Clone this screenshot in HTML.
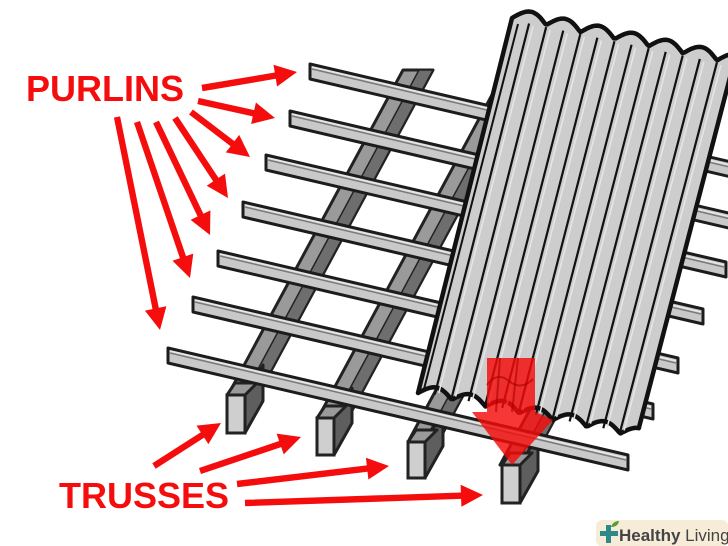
<!DOCTYPE html>
<html><head><meta charset="utf-8">
<style>
html,body{margin:0;padding:0;background:#fff;}
svg{display:block;}
.lbl{font-family:"Liberation Sans",sans-serif;font-weight:bold;font-size:36px;fill:#f50d0d;}
</style></head>
<body>
<svg id="s" width="728" height="546" viewBox="0 0 728 546" xmlns="http://www.w3.org/2000/svg">
<g id="trusses"></g>
<g id="purlins"></g>
<g id="sheet"></g>
<g id="front"></g>
<g id="arrows" fill="#f50d0d" stroke="none"></g>
<text class="lbl" x="26" y="101">PURLINS</text>
<text class="lbl" x="59" y="508">TRUSSES</text>
<rect x="596" y="520" width="132" height="26" rx="6" fill="#f6ecd8"/>
<rect x="600" y="531" width="18" height="5" fill="#2d8a8a"/>
<rect x="606" y="525" width="5" height="18" fill="#2d8a8a"/>
<path d="M611 527 q2 -6 8 -6 q-1 6 -8 6z" fill="#5a9a3a"/>
<text x="619" y="541" font-family="Liberation Sans,sans-serif" font-size="17" fill="#444"><tspan font-weight="bold">Healthy</tspan> Living</text>
</svg>
<script>
(function(){
const NS="http://www.w3.org/2000/svg";
function el(p,tag,a){const e=document.createElementNS(NS,tag);for(const k in a)e.setAttribute(k,a[k]);document.getElementById(p).appendChild(e);return e;}
function pts(a){return a.map(p=>p[0].toFixed(1)+","+p[1].toFixed(1)).join(" ");}
const tr=[[236,395],[326,418],[416,442],[508,465]];
tr.forEach(b=>{
  const x=b[0],y=b[1]; const tx=x+175, ty=y-325;
  el("trusses","polygon",{points:pts([[x-8,y],[x+22,y],[tx+22,ty],[tx-8,ty]]),fill:"#9a9a9a",stroke:"#222","stroke-width":3,"stroke-linejoin":"round"});
  el("trusses","polygon",{points:pts([[x+8,y],[x+22,y],[tx+22,ty],[tx+8,ty]]),fill:"#6e6e6e",stroke:"#222","stroke-width":1.5});
});
const posts=[[227,395,18,38],[317,418,17,37],[408,442,17,36],[502,465,18,38]];
posts.forEach(p=>{
  const x=p[0],y=p[1],w=p[2],h=p[3];
  el("trusses","polygon",{points:pts([[x+w,y],[x+w+18,y-30],[x+w+18,y+h-32],[x+w,y+h]]),fill:"#5e5e5e",stroke:"#222","stroke-width":3,"stroke-linejoin":"round"});
  el("trusses","polygon",{points:pts([[x,y],[x+8,y-12],[x+w+12,y-12],[x+w,y]]),fill:"#9a9a9a",stroke:"#222","stroke-width":3,"stroke-linejoin":"round"});
  el("trusses","rect",{x:x,y:y,width:w,height:h,fill:"#cfcfcf",stroke:"#222","stroke-width":3});
});
const L=[[310,64],[290,111],[266,155],[243,202],[218,251],[193,297],[168,348]];
function purlin(g,l){
  const x=l[0],y=l[1], rx=x+460, ry=y+107;
  el(g,"polygon",{points:pts([[x,y],[rx,ry],[rx,ry+15],[x,y+15]]),fill:"#c9c9c9",stroke:"#1c1c1c","stroke-width":3,"stroke-linejoin":"round"});
  el(g,"line",{x1:x+2,y1:y+5,x2:rx-2,y2:ry+5,stroke:"#7a7a7a","stroke-width":1.5});
  el(g,"line",{x1:x+2,y1:y+3,x2:rx-2,y2:ry+3,stroke:"#e8e8e8","stroke-width":1.5});
}
L.slice(0,6).forEach(l=>purlin("purlins",l));
const TL=[512,18],TR=[734,64],BR=[637,437],BL=[418,393];
function lerp(a,b,t){return [a[0]+(b[0]-a[0])*t,a[1]+(b[1]-a[1])*t];}
const N=13;
function wavy(A,B,amp){
  const out=[];const dx=B[0]-A[0],dy=B[1]-A[1],len=Math.hypot(dx,dy);const nx=dy/len,ny=-dx/len;
  for(let i=0;i<=120;i++){const t=i/120;const p=lerp(A,B,t);const w=amp*Math.abs(Math.sin(Math.PI*t*6.5));out.push([p[0]+nx*w,p[1]+ny*w]);}
  return out;
}
const topE=wavy(TL,TR,10), botE=wavy(BL,BR,9);
const poly=topE.concat(botE.slice().reverse());
el("sheet","polygon",{points:pts(poly),fill:"#cdcdcd",stroke:"#111","stroke-width":4.5,"stroke-linejoin":"round"});
for(let i=1;i<N;i++){
  const t=i/N;
  const a=lerp(TL,TR,t), b=lerp(BL,BR,t);
  el("sheet","line",{x1:a[0],y1:a[1]+2,x2:b[0],y2:b[1]-2,stroke:"#111","stroke-width":2.2});
  const t2=t+0.018;const a2=lerp(TL,TR,t2), b2=lerp(BL,BR,t2);
  el("sheet","line",{x1:a2[0],y1:a2[1]+4,x2:b2[0],y2:b2[1]-4,stroke:"#e6e6e6","stroke-width":1.5});
}
el("sheet","line",{x1:TL[0]+6,y1:TL[1]+6,x2:BL[0]+6,y2:BL[1]-4,stroke:"#111","stroke-width":2});
purlin("front",L[6]);
el("front","polygon",{points:pts([[487,358],[535,358],[535,412],[553,420],[512,465],[472,412],[487,412]]),fill:"rgba(245,10,10,0.82)"});
el("front","path",{d:"M487 385 q10 -14 22 -4 q12 10 24 -2",fill:"none",stroke:"rgba(170,0,0,0.6)","stroke-width":2});
el("front","line",{x1:500,y1:358,x2:496,y2:412,stroke:"rgba(170,0,0,0.6)","stroke-width":2});
el("front","line",{x1:518,y1:358,x2:512,y2:412,stroke:"rgba(170,0,0,0.6)","stroke-width":2});
function arrow(x1,y1,x2,y2){
  const dx=x2-x1,dy=y2-y1,len=Math.hypot(dx,dy),ux=dx/len,uy=dy/len,nx=-uy,ny=ux;
  const hl=22,hw=11,sw=3.2;const bx=x2-ux*hl,by=y2-uy*hl;
  el("arrows","polygon",{points:pts([[x1+nx*sw,y1+ny*sw],[bx+nx*sw,by+ny*sw],[bx+nx*hw,by+ny*hw],[x2,y2],[bx-nx*hw,by-ny*hw],[bx-nx*sw,by-ny*sw],[x1-nx*sw,y1-ny*sw]])});
}
arrow(202,88,297,72);arrow(198,101,275,118);arrow(191,112,250,157);arrow(175,118,228,198);
arrow(156,122,210,235);arrow(137,122,190,278);arrow(117,117,160,330);
arrow(154,466,221,423);arrow(200,471,301,437);arrow(237,484,389,466);arrow(245,503,483,495);
})();
</script>
</body></html>
